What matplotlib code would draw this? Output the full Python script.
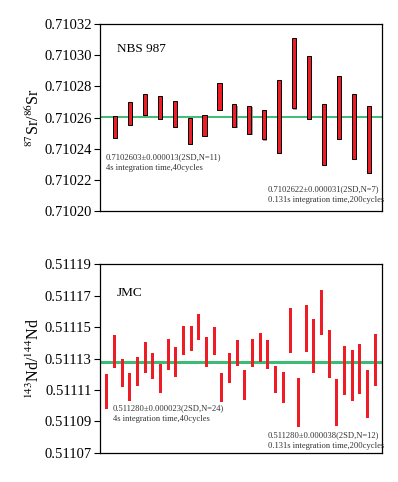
import matplotlib
matplotlib.use("Agg")
import matplotlib.pyplot as plt
import matplotlib.patheffects as pe
import numpy as np
from matplotlib.ticker import FormatStrFormatter

plt.rcParams['font.family'] = ['Liberation Serif', 'DejaVu Serif']
plt.rcParams['mathtext.fontset'] = 'stix'

# NBS 987 87Sr/86Sr, each bar = (top, bottom)
sr_top = [0.7102609, 0.7102699, 0.7102748, 0.7102735, 0.7102707, 0.7102598,
          0.7102613, 0.7102819, 0.7102684, 0.7102673, 0.7102645, 0.7102840,
          0.7103112, 0.7102992, 0.7102688, 0.7102864, 0.7102748, 0.7102671]
sr_bot = [0.7102467, 0.7102553, 0.7102615, 0.7102589, 0.7102542, 0.7102429,
          0.7102484, 0.7102651, 0.7102538, 0.7102497, 0.7102459, 0.7102375,
          0.7102658, 0.7102589, 0.7102296, 0.7102461, 0.7102332, 0.7102244]
sr_mean = 0.7102603

# JMC 143Nd/144Nd
nd_top = [5.00, 7.48, 5.96, 5.11, 6.11, 7.06, 6.36, 5.64, 7.25, 6.76, 8.06, 8.06,
          8.84, 7.34, 7.97, 5.05, 6.38, 7.17, 5.24, 7.25, 7.59, 7.19, 5.51, 5.13,
          9.20, 4.75, 9.37, 8.48, 10.35, 7.84, 4.73, 6.78, 6.57, 6.93, 5.28, 7.55]
nd_bot = [2.82, 5.38, 4.18, 3.31, 4.24, 5.05, 4.69, 3.84, 5.24, 4.81, 6.25, 6.47,
          7.19, 5.47, 6.21, 3.22, 4.47, 5.53, 3.35, 5.47, 5.75, 5.32, 3.82, 3.18,
          6.32, 1.63, 6.40, 5.09, 7.50, 4.79, 1.72, 3.71, 3.31, 3.77, 2.25, 4.28]
nd_top = [0.51107 + v * 1e-5 for v in nd_top]
nd_bot = [0.51107 + v * 1e-5 for v in nd_bot]
nd_mean = 0.511128

sr_ticks = [0.71020, 0.71022, 0.71024, 0.71026, 0.71028, 0.71030, 0.71032]
nd_ticks = [0.51107, 0.51109, 0.51111, 0.51113, 0.51115, 0.51117, 0.51119]

fig = plt.figure(figsize=(3.98, 4.82), dpi=100)
ax1 = fig.add_axes([0.2513, 0.5622, 0.709, 0.388])
ax2 = fig.add_axes([0.2513, 0.0602, 0.709, 0.392])

red = '#ee1c25'
green = '#3dbb74'

# top panel
x1 = np.arange(1, len(sr_top) + 1)
h1 = np.array(sr_top) - np.array(sr_bot)
bars = ax1.bar(x1, h1, bottom=sr_bot, width=0.28, color=red, edgecolor='black',
               linewidth=0.7, zorder=3)
for b in bars:
    b.set_path_effects([pe.SimplePatchShadow(offset=(0.8, -0.8), shadow_rgbFace='#888888', alpha=0.8),
                        pe.Normal()])
ax1.axhline(sr_mean, color=green, lw=1.4, zorder=2)
ax1.set_xlim(0.0, 18.9)
ax1.set_ylim(sr_ticks[0], sr_ticks[-1])
ax1.set_yticks(sr_ticks)
ax1.yaxis.set_major_formatter(FormatStrFormatter('%.5f'))
ax1.set_ylabel(r'$^{87}$Sr/$^{86}$Sr', fontsize=11.5, labelpad=1)
ax1.text(0.06, 0.9, 'NBS 987', transform=ax1.transAxes, fontsize=9.5, va='top')
ax1.text(0.02, 0.31, '0.7102603\u00b10.000013(2SD,N=11)\n4s integration time,40cycles',
         transform=ax1.transAxes, fontsize=6.1, color='#333333', va='top', linespacing=1.45)
ax1.text(0.595, 0.14, '0.7102622\u00b10.000031(2SD,N=7)\n0.131s integration time,200cycles',
         transform=ax1.transAxes, fontsize=6.1, color='#333333', va='top', linespacing=1.45)

# bottom panel
x2 = np.arange(1, len(nd_top) + 1)
h2 = np.array(nd_top) - np.array(nd_bot)
ax2.bar(x2, h2, bottom=nd_bot, width=0.4, color=red, linewidth=0, zorder=3)
ax2.axhline(nd_mean, color=green, lw=2.2, zorder=2)
ax2.set_xlim(0.1, 36.9)
ax2.set_ylim(nd_ticks[0], nd_ticks[-1])
ax2.set_yticks(nd_ticks)
ax2.yaxis.set_major_formatter(FormatStrFormatter('%.5f'))
ax2.set_ylabel(r'$^{143}$Nd/$^{144}$Nd', fontsize=11.5, labelpad=1)
ax2.text(0.06, 0.88, 'JMC', transform=ax2.transAxes, fontsize=9.5, va='top')
ax2.text(0.045, 0.26, '0.511280\u00b10.000023(2SD,N=24)\n4s integration time,40cycles',
         transform=ax2.transAxes, fontsize=6.1, color='#333333', va='top', linespacing=1.45)
ax2.text(0.595, 0.115, '0.511280\u00b10.000038(2SD,N=12)\n0.131s integration time,200cycles',
         transform=ax2.transAxes, fontsize=6.1, color='#333333', va='top', linespacing=1.45)

for ax in (ax1, ax2):
    ax.set_xticks([])
    ax.tick_params(axis='y', direction='out', length=4, width=0.8, labelsize=10.5, pad=2)
    for s in ax.spines.values():
        s.set_linewidth(0.9)

fig.savefig('out.png', dpi=100)
